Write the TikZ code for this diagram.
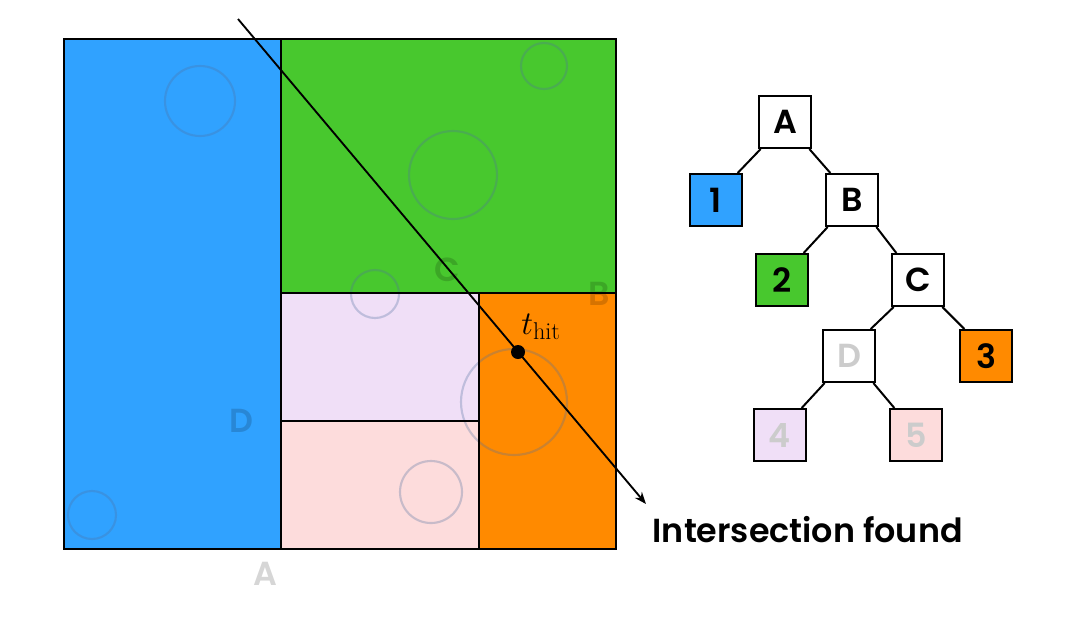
\documentclass[tikz,border=0pt]{standalone}
\usepackage{fontspec}
\setsansfont{Poppins}[BoldFont={* SemiBold}]
\usetikzlibrary{arrows.meta}
\definecolor{cblue}{HTML}{30A2FF}
\definecolor{cgreen}{HTML}{48C82E}
\definecolor{corange}{HTML}{FF8A00}
\definecolor{clav}{HTML}{F0DFF7}
\definecolor{cpink}{HTML}{FDDCDC}
\definecolor{cgrey}{HTML}{CCCCCC}
\definecolor{ccirc}{HTML}{5070A0}
\tikzset{
  region/.style={draw=black, line width=1.5pt},
  blob/.style={draw=ccirc, draw opacity=0.3, line width=1.6pt},
  ghost/.style={font=\sffamily\bfseries\fontsize{25}{25}\selectfont, text=black, text opacity=0.16},
  tbox/.style={draw=black, line width=1.5pt, fill=white, minimum width=39pt, minimum height=39pt, inner sep=0pt, font=\sffamily\bfseries\fontsize{25}{25}\selectfont},
  tedge/.style={line width=1.5pt},
}
\begin{document}
\begin{tikzpicture}[x=0.75pt,y=-0.75pt]
\useasboundingbox (0,0) rectangle (1070,619);
% regions
\fill[cblue] (64,39) rectangle (281,549);
\fill[cgreen] (281,39) rectangle (616,293);
\fill[clav] (281,293) rectangle (479,421);
\fill[cpink] (281,421) rectangle (479,549);
\fill[corange] (479,293) rectangle (616,549);
% circles
\draw[blob] (200,101) circle[radius=35];
\draw[blob] (544,66) circle[radius=23];
\draw[blob] (453,175) circle[radius=44];
\draw[blob] (375,294) circle[radius=24];
\draw[blob] (514,402) circle[radius=53];
\draw[blob] (431,492) circle[radius=31];
\draw[blob] (92,515) circle[radius=24];
% outlines
\draw[region] (64,39) rectangle (616,549);
\draw[region] (281,39) -- (281,549);
\draw[region] (281,293) -- (616,293);
\draw[region] (479,293) -- (479,549);
\draw[region] (281,421) -- (479,421);
% ghost labels
\node[ghost] (lC) at (447,270) {C};
\node[ghost] (lB) at (599,294) {B};
\node[ghost] (lD) at (241,421) {D};
\node[ghost] (lA) at (265,574) {A};
% ray
\coordinate (rs) at (238,19);
\coordinate (re) at (646,504);
\draw[line width=1.4pt, -{Stealth[length=9pt,width=7pt]}] (rs) -- (re);
\fill (518,352) circle[radius=7];
\node[font=\fontsize{26}{26}\selectfont] (th) at (541,327) {$t_{\mathrm{hit}}$};
\node[font=\sffamily\bfseries\fontsize{25}{25}\selectfont, anchor=west] (found) at (648,530) {Intersection found};
% tree
\node[tbox] (A) at (785,122) {A};
\node[tbox, fill=cblue] (n1) at (716,200) {1};
\node[tbox] (B) at (852,200) {B};
\node[tbox, fill=cgreen] (n2) at (782,280) {2};
\node[tbox] (C) at (918,280) {C};
\node[tbox, text=cgrey] (D) at (849,356) {D};
\node[tbox, fill=corange] (n3) at (986,356) {3};
\node[tbox, fill=clav, text=cgrey] (n4) at (780,435) {4};
\node[tbox, fill=cpink, text=cgrey] (n5) at (916,435) {5};
\draw[tedge] ([xshift=2pt]A.south west) -- ([xshift=-4pt]n1.north east);
\draw[tedge] ([xshift=-2pt]A.south east) -- ([xshift=4pt]B.north west);
\draw[tedge] ([xshift=2pt]B.south west) -- ([xshift=-4pt]n2.north east);
\draw[tedge] ([xshift=-2pt]B.south east) -- ([xshift=4pt]C.north west);
\draw[tedge] ([xshift=2pt]C.south west) -- ([xshift=-4pt]D.north east);
\draw[tedge] ([xshift=-2pt]C.south east) -- ([xshift=4pt]n3.north west);
\draw[tedge] ([xshift=2pt]D.south west) -- ([xshift=-4pt]n4.north east);
\draw[tedge] ([xshift=-2pt]D.south east) -- ([xshift=4pt]n5.north west);
\end{tikzpicture}
\end{document}
